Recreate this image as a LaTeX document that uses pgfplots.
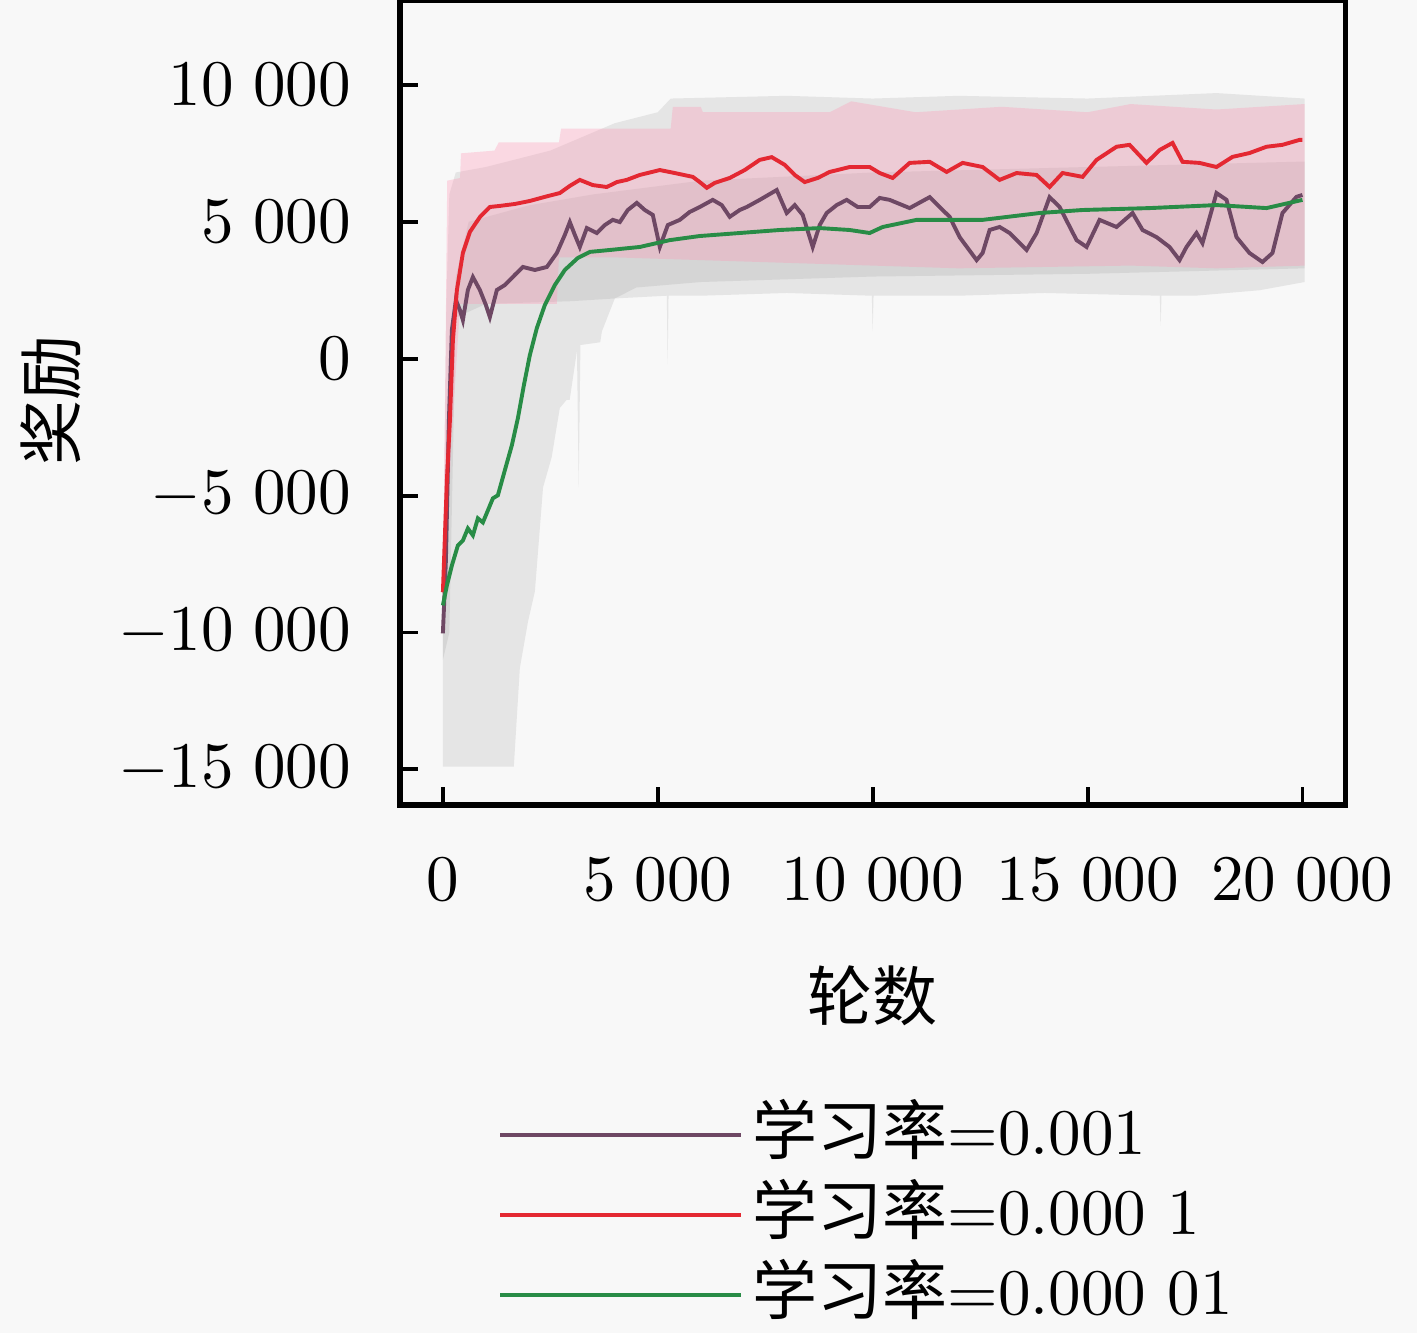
\documentclass[border=0pt]{standalone}
\usepackage{pgfplots}
\pgfplotsset{compat=1.18}
\usepackage{fontspec}
\newfontfamily\cjk{Noto Sans CJK SC}
\definecolor{bg}{RGB}{248,248,248}
\definecolor{cA}{RGB}{110,72,100}
\definecolor{cB}{RGB}{228,40,50}
\definecolor{cC}{RGB}{40,140,70}
\definecolor{bandP}{RGB}{255,150,180}
\begin{document}
\begin{tikzpicture}
\fill[bg] (-61.5pt,-81.2pt) rectangle (156.4pt,123.8pt);
\begin{axis}[
  scale only axis, width=145.4pt, height=123.8pt,
  at={(0,0)}, anchor=south west,
  xmin=-1000, xmax=21000, ymin=-16300, ymax=13100,
  xtick={0,5000,10000,15000,20000},
  ytick={-15000,-10000,-5000,0,5000,10000},
  xtick pos=bottom, ytick pos=left, tick align=inside,
  major tick length=2.8pt, tick style={line width=0.6pt, black},
  axis line style={line width=0.9pt},
  scaled ticks=false,
  /pgf/number format/1000 sep={\hspace{0.3em}},
  yticklabel style={xshift=-4pt},
  xticklabel style={yshift=-4.7pt},
  xlabel={\cjk 轮数}, ylabel={\cjk 奖励},
  xlabel style={at={(axis description cs:0.5,-0.237)}, anchor=center},
  ylabel style={at={(axis description cs:-0.369,0.502)}, anchor=center},
  legend style={draw=none, fill=none, at={(axis description cs:0.1026,-0.5093)}, anchor=west,
     inner sep=0pt, row sep=2.3pt, column sep=1.5pt,
     nodes={inner sep=0pt, text height=8pt, text depth=2pt}},
  legend cell align=left,
  legend image code/.code={\draw[#1] (0pt,0pt) -- (37pt,0pt);},
]
% band for lr=0.00001
\addplot[draw=none, fill=black!40, fill opacity=0.2, forget plot] coordinates {
(0,-7000) (100,-2000) (300,3000) (600,5000) (2000,5600) (3500,6000) (6000,6500) (10000,6800) (15000,7000) (20050,7200)
(20050,3300) (15000,3100) (10000,3000) (6000,2800) (4500,2600) (4000,2200) (3700,1000) (3660,600) (3200,500) (3160,-4700) (3120,300) (2950,-1500) (2880,-1500) (2720,-1800) (2530,-3600) (2330,-4700) (2140,-8500) (1980,-9600) (1790,-11300) (1650,-14900) (0,-14900)
} -- cycle;
% band for lr=0.001
\addplot[draw=none, fill=black!40, fill opacity=0.2, forget plot] coordinates {
(0,-9000) (80,2000) (150,6000) (300,6800) (1000,7000) (2500,7600) (4000,8600) (5000,9000) (5300,9500) (8000,9600) (10000,9500) (12000,9600) (15000,9500) (18000,9700) (20050,9500)
(20050,2800) (19000,2500) (17500,2300) (16720,2300) (16700,1200) (16680,2300) (14000,2400) (12000,2300) (10020,2300) (10000,1000) (9980,2300) (8000,2400) (6000,2300) (5250,2300) (5230,-200) (5210,2300) (4000,2200) (3000,2100) (1000,2000) (300,1500) (150,-10000) (0,-11000)
} -- cycle;
% band for lr=0.0001
\addplot[draw=none, fill=bandP, fill opacity=0.32, forget plot] coordinates {
(0,-8500) (60,0) (100,6500) (400,6600) (420,7500) (1200,7600) (1300,7900) (2700,7900) (2750,8400) (5300,8400) (5350,9200) (6000,9200) (6050,9000) (9000,9000) (9500,9400) (11000,9000) (13000,9200) (15000,9000) (16000,9300) (18000,9100) (20050,9300)
(20050,3400) (18000,3300) (16000,3400) (12000,3300) (8000,3500) (4000,3700) (2700,3700) (2650,2000) (400,2000) (200,-3000) (60,-8500) (0,-9000)
} -- cycle;

\addplot[cA, line width=0.6pt] coordinates {
(0,-10030) (70,-7360) (140,-2240) (209,1050) (302,2140) (395,1780) (465,1410) (581,2510) (698,2980) (860,2510) (1000,1960) (1093,1520) (1256,2510) (1442,2690) (1674,3060) (1860,3350) (2140,3240) (2419,3350) (2651,3860) (2837,4520) (2953,4990) (3070,4520) (3186,4080) (3349,4770) (3581,4590) (3767,4880) (3953,5070) (4116,4990) (4302,5430) (4512,5690) (4698,5430) (4884,5250) (5047,4080) (5233,4880) (5512,5070) (5744,5360) (5977,5540) (6279,5800) (6488,5610) (6674,5180) (6907,5430) (7070,5540) (7372,5800) (7558,5970) (7767,6160) (8000,5320) (8186,5610) (8372,5250) (8605,4080) (8767,4880) (8930,5320) (9163,5610) (9395,5800) (9651,5540) (9930,5540) (10163,5870) (10395,5800) (10860,5500) (11326,5900) (11558,5540) (11791,5180) (12023,4440) (12419,3600) (12558,3860) (12721,4700) (12954,4810) (13186,4590) (13581,3970) (13814,4590) (14116,5900) (14349,5540) (14744,4330) (14977,4080) (15279,5070) (15674,4810) (16047,5320) (16279,4700) (16605,4440) (16907,4080) (17140,3600) (17302,4080) (17535,4590) (17674,4220) (18000,6050) (18233,5800) (18465,4440) (18767,3860) (19070,3530) (19302,3860) (19535,5320) (19860,5910) (20000,5980)
};
\addlegendentry{{\cjk 学习率}=0.001}
\addplot[cB, line width=0.6pt] coordinates {
(0,-8530) (93,-4440) (163,-2250) (233,680) (326,2510) (465,3860) (628,4630) (860,5170) (1093,5540) (1326,5580) (1674,5650) (2023,5760) (2372,5910) (2721,6050) (2953,6310) (3186,6530) (3488,6340) (3814,6270) (4047,6450) (4279,6530) (4581,6710) (5047,6890) (5395,6780) (5814,6640) (5977,6450) (6140,6240) (6326,6420) (6674,6600) (7023,6890) (7372,7260) (7651,7360) (7953,7080) (8186,6710) (8419,6450) (8721,6600) (9000,6820) (9465,7000) (9930,7000) (10163,6780) (10465,6600) (10860,7150) (11326,7190) (11721,6820) (12093,7150) (12558,7000) (12954,6530) (13349,6780) (13814,6710) (14116,6270) (14419,6780) (14884,6640) (15209,7260) (15674,7740) (15977,7810) (16372,7150) (16675,7620) (16977,7880) (17209,7190) (17605,7150) (18000,7000) (18372,7370) (18767,7510) (19163,7740) (19535,7810) (19930,7990) (20000,7990)
};
\addlegendentry{{\cjk 学习率}=0.000\ 1}
\addplot[cC, line width=0.6pt] coordinates {
(0,-9010) (93,-8280) (209,-7550) (349,-6820) (465,-6640) (581,-6200) (698,-6450) (814,-5830) (930,-5980) (1047,-5540) (1163,-5100) (1279,-4990) (1442,-4070) (1605,-3160) (1744,-2180) (1884,-970) (2023,130) (2186,1120) (2372,1960) (2605,2690) (2837,3240) (3140,3680) (3419,3900) (3884,3970) (4581,4080) (5279,4330) (5977,4480) (6907,4590) (7837,4700) (8767,4770) (9465,4700) (9930,4590) (10233,4810) (11023,5070) (12558,5070) (13884,5320) (14884,5430) (16442,5500) (18000,5610) (19163,5500) (20000,5800)
};
\addlegendentry{{\cjk 学习率}=0.000\ 01}
\end{axis}
\pgfresetboundingbox
\path[use as bounding box] (-61.5pt,-81.2pt) rectangle (156.4pt,123.8pt);
\end{tikzpicture}
\end{document}
